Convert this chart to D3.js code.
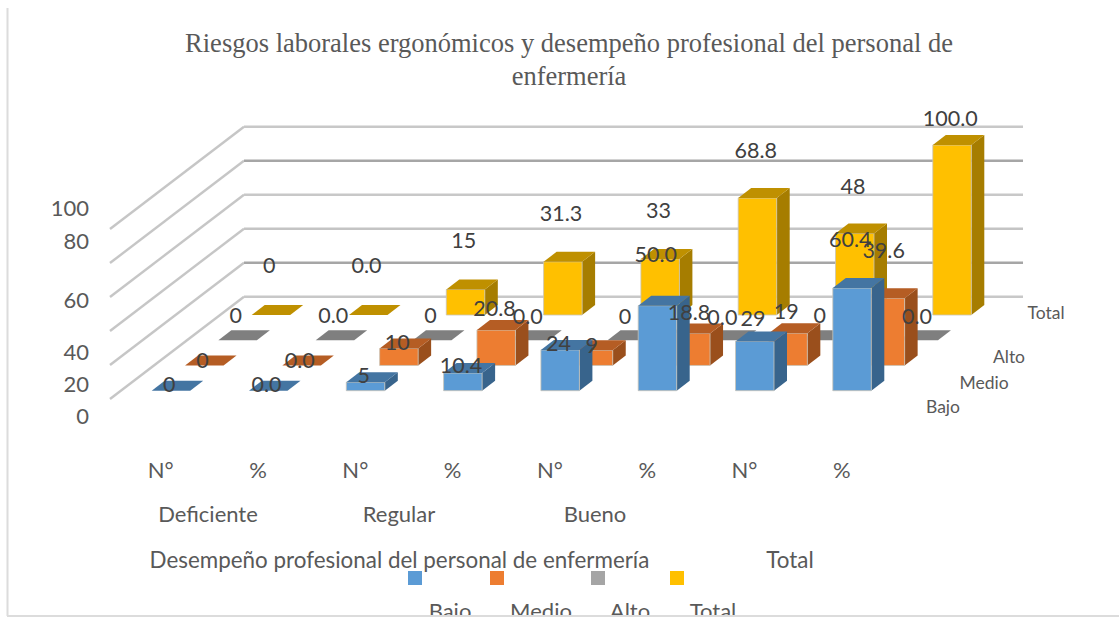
<!DOCTYPE html>
<html lang="es">
<head>
<meta charset="utf-8">
<script src="https://cdn.jsdelivr.net/npm/d3@7"></script>
<style>
html,body{margin:0;padding:0;background:#fff;overflow:hidden}
svg{display:block}
text{font-family:Lato,"Open Sans",sans-serif}
</style>
</head>
<body>
<svg id="c" width="1119" height="617"></svg>
<script>
// ---- data ----
const titleLines = ["Riesgos laborales ergonómicos y desempeño profesional del personal de", "enfermería"];
const categories = ["N°", "%", "N°", "%", "N°", "%", "N°", "%"];
const groups = ["Deficiente", "Regular", "Bueno"];
const outerLabels = ["Desempeño profesional del personal de enfermería", "Total"];
const seriesNames = ["Bajo", "Medio", "Alto", "Total"];
const bajo  = [0, 0.0, 5, 10.4, 24, 50.0, 29, 60.4];
const medio = [0, 0.0, 10, 20.8, 9, 18.8, 19, 39.6];
const alto  = [0, 0.0, 0, 0.0, 0, 0.0, 0, 0.0];
const total = [0, 0.0, 15, 31.3, 33, 68.8, 48, 100.0];
const bajoText  = ["0", "0.0", "5", "10.4", "24", "50.0", "29", "60.4"];
const medioText = ["0", "0.0", "10", "20.8", "9", "18.8", "19", "39.6"];
const altoText  = ["0", "0.0", "0", "0.0", "0", "0.0", "0", "0.0"];
const totalText = ["0", "0.0", "15", "31.3", "33", "68.8", "48", "100.0"];
const yTicks = [0, 20, 40, 60, 80, 100];

// ---- layout ----
const seriesVals = [bajo, medio, alto, total];
const seriesText = [bajoText, medioText, altoText, totalText];
const idx = d3.range(categories.length);
const barW = 38.5, depthX = 13, depthY = 10;
const x = d3.scalePoint().domain(idx).range([151.7, 832.8]);
const rowX = d3.scalePoint().domain(seriesNames).range([0, 100]);
const rowY = d3.scalePoint().domain(seriesNames).range([390.7, 315]);
const h = d3.scaleLinear().domain([0, 100]).range([0, 170]);
const wallBack = d3.scaleLinear().domain([0, 100]).range([296.7, 126.7]);
const wallFront = d3.scaleLinear().domain([0, 100]).range([399, 229]);
const wallX = {front: 110, back: 244, right: 1023};
const palette = {
  Bajo:  {front: "#5B9BD5", top: "#4475A2", side: "#38648C"},
  Medio: {front: "#ED7D31", top: "#B55D24", side: "#9A4F1C"},
  Alto:  {front: "#A5A5A5", top: "#7F7F7F", side: "#6B6B6B"},
  Total: {front: "#FFC000", top: "#BF9000", side: "#A67D00"}
};
const legendColors = ["#5B9BD5", "#ED7D31", "#A5A5A5", "#FFC000"];
const legendSwatchX = [408, 490, 591, 670];
const legendTextX = [450, 541, 630, 713];
const groupX = [208, 399, 595];
const outerX = [399.5, 790];
const gridColors = ["#c8c8c8", "#a6a6a6", "#c4c4c4", "#c8c8c8", "#a6a6a6", "#c8c8c8"];
const sideColor = "#c6c6c6";
const tickNudge = [17, 19, 21, 3, -22, -21];
const labelNudge = [
  [-6, -6, -7, -8, -6, -51, -23, -49],
  [-5, -5, -6, -22, -5, -21, -22, -48],
  [-25, -25, -25, -24, -24, -23, -25, -24],
  [-50, -50, -49, -48, -48, -48, -47, -27]
];
const labelDx = 17.5;

const svg = d3.select("#c");
const defs = svg.append("defs");
defs.append("clipPath").attr("id", "frameClip").append("rect")
  .attr("x", 0).attr("y", 0).attr("width", 1119).attr("height", 615);

// frame
svg.append("line").attr("x1", 7.5).attr("x2", 7.5).attr("y1", 8).attr("y2", 616)
  .attr("stroke", "#dcdcdc").attr("stroke-width", 2);
svg.append("line").attr("x1", 7).attr("x2", 1119).attr("y1", 616).attr("y2", 616)
  .attr("stroke", "#dcdcdc").attr("stroke-width", 2);

// title
svg.append("g").selectAll("text").data(titleLines).join("text")
  .attr("x", 569).attr("y", (d, i) => 52 + i * 33)
  .attr("text-anchor", "middle")
  .style("font-family", "'Liberation Serif',serif")
  .style("font-size", "26.5px").attr("fill", "#595959")
  .text(d => d);

// walls
const grid = svg.append("g");
yTicks.forEach((t, i) => {
  grid.append("line")
    .attr("x1", wallX.front).attr("y1", wallFront(t)).attr("x2", wallX.back).attr("y2", wallBack(t))
    .attr("stroke", sideColor).attr("stroke-width", 2.4);
  grid.append("line")
    .attr("x1", wallX.back).attr("y1", wallBack(t)).attr("x2", wallX.right).attr("y2", wallBack(t))
    .attr("stroke", gridColors[i]).attr("stroke-width", 2.4);
});

// y axis labels
svg.append("g").selectAll("text").data(yTicks).join("text")
  .attr("x", 89).attr("y", (d, i) => wallFront(d) + tickNudge[i])
  .attr("dy", "0.35em").attr("text-anchor", "end")
  .style("font-size", "22px").attr("fill", "#595959").text(d => d);

// bars, back row first
const barsG = svg.append("g");
[3, 2, 1, 0].forEach(s => {
  const name = seriesNames[s];
  const col = palette[name];
  const g = barsG.append("g").attr("class", "series-" + name);
  idx.forEach(i => {
    const v = seriesVals[s][i];
    const x0 = x(i) + rowX(name);
    const base = rowY(name);
    const top = base - h(v);
    const line = d3.line();
    if (v > 0) {
      g.append("path").attr("fill", col.side)
        .attr("d", line([[x0 + barW, top], [x0 + barW + depthX, top - depthY], [x0 + barW + depthX, base - depthY], [x0 + barW, base]]) + "Z");
      g.append("path").attr("fill", col.front).attr("stroke", "#c9c4b8").attr("stroke-width", 0.8)
        .attr("d", line([[x0, base], [x0, top], [x0 + barW, top], [x0 + barW, base]]) + "Z");
    }
    g.append("path").attr("fill", col.top)
      .attr("d", line([[x0, top], [x0 + depthX, top - depthY], [x0 + barW + depthX, top - depthY], [x0 + barW, top]]) + "Z");
  });
});

// data labels
const labelsG = svg.append("g");
seriesNames.forEach((name, s) => {
  labelsG.append("g").selectAll("text").data(idx).join("text")
    .attr("x", i => x(i) + rowX(name) + labelDx)
    .attr("y", i => rowY(name) - h(seriesVals[s][i]) + labelNudge[s][i])
    .attr("dy", "0.35em").attr("text-anchor", "middle")
    .style("font-size", "21.5px").attr("fill", "#404040")
    .text(i => seriesText[s][i]);
});

// depth axis labels
const depthLabels = [["Total", 1046, 313], ["Alto", 1009, 357], ["Medio", 984, 383], ["Bajo", 943, 407]];
svg.append("g").selectAll("text").data(depthLabels).join("text")
  .attr("x", d => d[1]).attr("y", d => d[2]).attr("dy", "0.35em").attr("text-anchor", "middle")
  .style("font-size", "17.5px").attr("fill", "#595959").text(d => d[0]);

// category axis
svg.append("g").selectAll("text").data(idx).join("text")
  .attr("x", i => x(i) + 9).attr("y", 470).attr("dy", "0.35em").attr("text-anchor", "middle")
  .style("font-size", "22px").attr("fill", "#595959").text(i => categories[i]);
svg.append("g").selectAll("text").data(groups).join("text")
  .attr("x", (d, i) => groupX[i]).attr("y", 514).attr("dy", "0.35em").attr("text-anchor", "middle")
  .style("font-size", "22px").attr("fill", "#595959").text(d => d);
svg.append("g").selectAll("text").data(outerLabels).join("text")
  .attr("x", (d, i) => outerX[i]).attr("y", 560).attr("dy", "0.35em").attr("text-anchor", "middle")
  .style("font-size", "22.4px").attr("fill", "#595959").text(d => d);

// legend
const legend = svg.append("g").attr("clip-path", "url(#frameClip)");
legend.selectAll("rect").data(seriesNames).join("rect")
  .attr("x", (d, i) => legendSwatchX[i]).attr("y", 571).attr("width", 14).attr("height", 14)
  .attr("fill", (d, i) => legendColors[i]);
legend.selectAll("text").data(seriesNames).join("text")
  .attr("x", (d, i) => legendTextX[i]).attr("y", 619).attr("text-anchor", "middle")
  .style("font-size", "22px").attr("fill", "#595959").text(d => d);
</script>
</body>
</html>
